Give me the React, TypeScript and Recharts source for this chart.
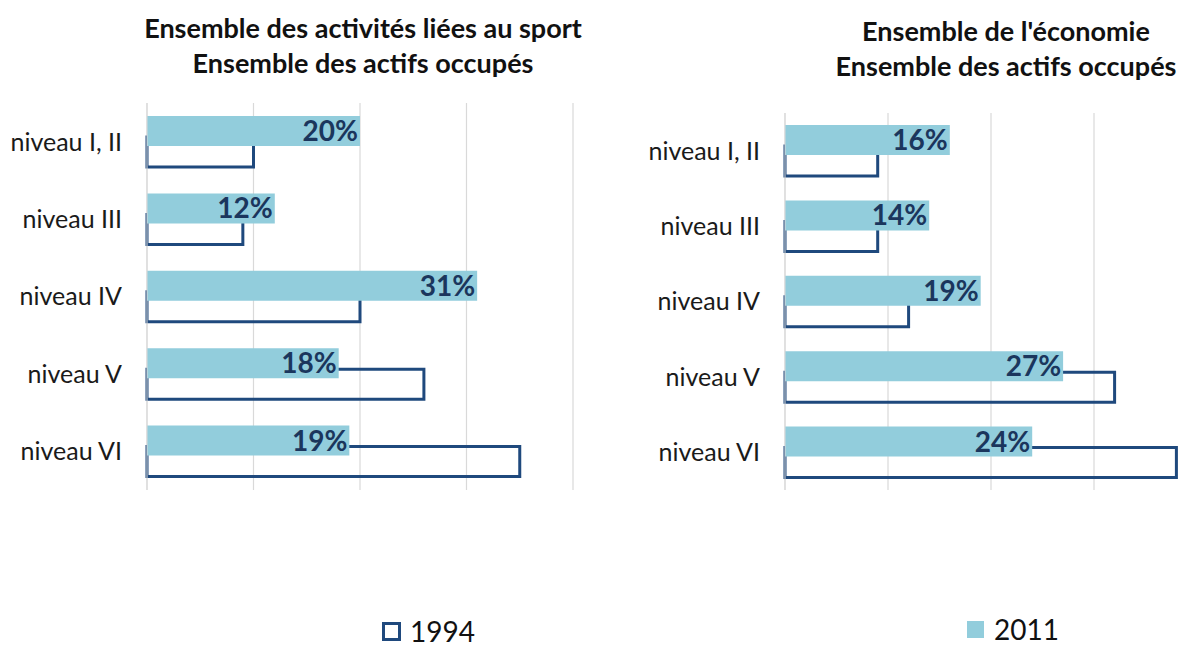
import { BarChart, Bar, XAxis, YAxis, CartesianGrid, LabelList } from 'recharts';

const categories = ['niveau I, II', 'niveau III', 'niveau IV', 'niveau V', 'niveau VI'];
const sport1994 = [10, 9, 20, 26, 35];
const sport2011 = [20, 12, 31, 18, 19];
const eco1994 = [9, 9, 12, 32, 38];
const eco2011 = [16, 14, 19, 27, 24];
const xTicks = [0, 10, 20, 30, 40];

const FONT = 'Lato, "Open Sans", sans-serif';
const C2011 = '#92CDDC';
const C1994 = '#1F497D';
const LABEL = '#1B365D';
const GRID = '#D9D9D9';

const sportData = categories.map((name, i) => ({ name, y1994: sport1994[i], y2011: sport2011[i] }));
const ecoData = categories.map((name, i) => ({ name, y1994: eco1994[i], y2011: eco2011[i] }));

// 1994 is listed first so 2011 paints over it; the negative gap puts 2011 above it
function Panel({ data, width, top, right, axisWidth }: { data: any[]; width: number; top: number; right: number; axisWidth: number }) {
  return (
    <BarChart
      width={width}
      height={500}
      layout="vertical"
      data={data}
      margin={{ top, right, bottom: 10, left: 0 }}
      barSize={30}
      barGap={-51}
    >
      <CartesianGrid horizontal={false} stroke={GRID} strokeWidth={1.2} />
      <XAxis type="number" domain={[0, 40]} ticks={xTicks} hide />
      <YAxis
        type="category"
        dataKey="name"
        width={axisWidth}
        axisLine={{ stroke: GRID }}
        tickLine={false}
        tickSize={0}
        tickMargin={25}
        tick={{ fill: '#1a1a1a', fontSize: 25, fontFamily: FONT }}
      />
      <Bar dataKey="y1994" fill="none" stroke={C1994} strokeWidth={3} isAnimationActive={false} />
      <Bar dataKey="y2011" fill={C2011} isAnimationActive={false}>
        <LabelList
          dataKey="y2011"
          position="insideRight"
          offset={2}
          formatter={(v: any) => `${v}%`}
          fill={LABEL}
          fontSize={28}
          fontWeight="bold"
          fontFamily={FONT}
        />
      </Bar>
    </BarChart>
  );
}

const titleStyle: React.CSSProperties = {
  position: 'absolute',
  textAlign: 'center',
  fontFamily: FONT,
  fontWeight: 'bold',
  fontSize: 27,
  lineHeight: '35px',
  color: '#111',
  whiteSpace: 'nowrap',
};

const legendStyle: React.CSSProperties = {
  position: 'absolute',
  display: 'flex',
  alignItems: 'center',
  fontFamily: FONT,
  fontSize: 28,
  lineHeight: '28px',
  color: '#111',
};

export default function App() {
  return (
    <div style={{ position: 'absolute', left: 0, top: 0, width: 1187, height: 648, overflow: 'hidden', background: '#fff' }}>
      <div style={{ ...titleStyle, left: 63, width: 600, top: 10 }}>
        Ensemble des activités liées au sport
        <br />
        Ensemble des actifs occupés
      </div>
      <div style={{ ...titleStyle, left: 706, width: 600, top: 13 }}>
        Ensemble de l'économie
        <br />
        Ensemble des actifs occupés
      </div>

      <div style={{ position: 'absolute', left: 0, top: 0 }}>
        <Panel data={sportData} width={600} top={103} right={27} axisWidth={147} />
      </div>
      <div style={{ position: 'absolute', left: 640, top: 0 }}>
        <Panel data={ecoData} width={600} top={113} right={43} axisWidth={145} />
      </div>

      <div style={{ ...legendStyle, left: 382, top: 617 }}>
        <span style={{ width: 13, height: 13, border: `3px solid ${C1994}`, marginRight: 9, display: 'inline-block' }} />
        1994
      </div>
      <div style={{ ...legendStyle, left: 967, top: 615 }}>
        <span style={{ width: 17, height: 17, background: C2011, marginRight: 10, display: 'inline-block' }} />
        2011
      </div>
    </div>
  );
}
